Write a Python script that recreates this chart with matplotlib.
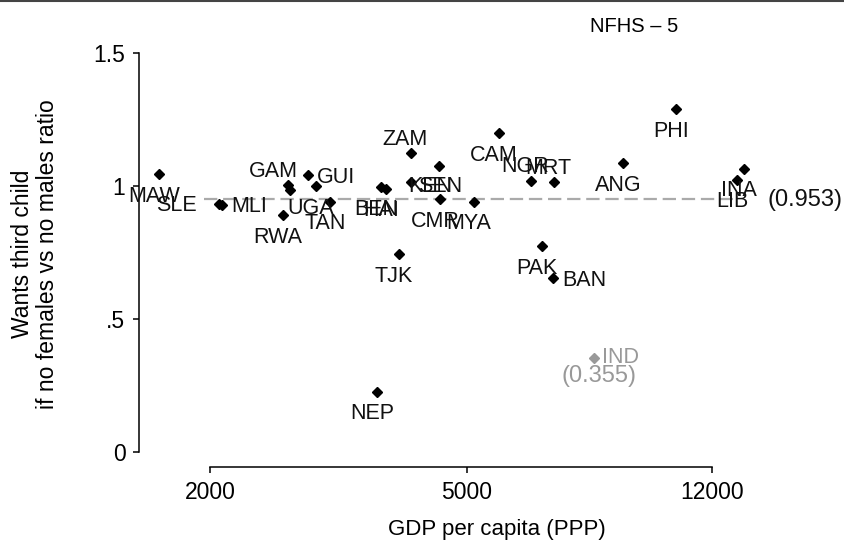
import matplotlib
matplotlib.use('Agg')
import matplotlib.pyplot as plt
from matplotlib.lines import Line2D

# data (GDP per capita PPP, ratio)
countries = ['MAW', 'SLE', 'MLI', 'GAM', '', 'GUI', 'UGA', 'TAN', 'RWA',
             'BEN', 'HAI', 'ZAM', 'TJK', 'NEP', 'KEN', 'SEN', 'CMR', 'MYA',
             'CAM', 'NGR', 'MRT', 'PAK', 'BAN', 'ANG', 'PHI', 'INA', 'LIB']
gdp = [1667, 2065, 2087, 2642, 2661, 2837, 2920, 3069, 2595,
       3682, 3748, 4098, 3926, 3630, 4098, 4529, 4546, 5131,
       5610, 6289, 6827, 6540, 6802, 8733, 10552, 13450, 13118]
ratio = [1.045, 0.932, 0.929, 1.004, 0.985, 1.041, 1.000, 0.940, 0.891,
         0.996, 0.989, 1.124, 0.744, 0.226, 1.015, 1.075, 0.951, 0.940,
         1.199, 1.019, 1.015, 0.774, 0.654, 1.086, 1.289, 1.064, 1.023]

india_gdp = 7874
india_ratio = 0.355
mean_ratio = 0.953
mean_span = [1960, 12950]

xticks = [2000, 5000, 12000]
yticks = [0, 0.5, 1, 1.5]
yticklabels = ['0', '.5', '1', '1.5']

# marker label placement: clock position or (ha, dx, dy) in pixels
offsets = {6: ('center', -5, -22), 12: ('center', -6, 14),
           3: ('left', 9, -2), 9: ('right', -22, -1)}
label_pos = {'SLE': 9, 'MLI': 3, 'GAM': ('center', -15, 13), 'GUI': 3,
             'ZAM': 12, 'KEN': ('left', -3, -4), 'SEN': ('center', 1, -20),
             'NGR': 12, 'MRT': 12, 'BAN': 3}

plt.rcParams['font.family'] = ['Liberation Sans', 'DejaVu Sans']

W, H = 845, 542
fig = plt.figure(figsize=(W / 100, H / 100), dpi=100)
ax = fig.add_axes([139 / W, 75 / H, (W - 139) / W, 427 / H])
ax.set_xscale('log')
ax.set_xlim(1552, 19290)
ax.set_ylim(-0.0564, 1.549)

ax.plot(mean_span, [mean_ratio, mean_ratio], color='#aaaaaa', lw=1.6,
        ls=(0, (6, 2.6)), zorder=1)
ax.annotate('(%.3f)' % mean_ratio, (mean_span[1], mean_ratio),
            xytext=(34, -1), textcoords='offset pixels', ha='left',
            va='center', fontsize=17, color='#111111')

ax.plot(gdp, ratio, ls='none', marker='D', ms=5.2, color='black', zorder=3)
for c, x, y in zip(countries, gdp, ratio):
    if not c:
        continue
    p = label_pos.get(c, 6)
    ha, dx, dy = offsets[p] if isinstance(p, int) else p
    ax.annotate(c, (x, y), xytext=(dx, dy), textcoords='offset pixels',
                ha=ha, va='center', fontsize=15.5, color='#111111')

ax.plot([india_gdp], [india_ratio], ls='none', marker='D', ms=5.2,
        color='#999999', zorder=3)
ax.annotate('IND', (india_gdp, india_ratio), xytext=(8, 0),
            textcoords='offset pixels', ha='left', va='center',
            fontsize=15.5, color='#999999')
ax.annotate('(%.3f)' % india_ratio, (india_gdp, india_ratio), xytext=(5, -18),
            textcoords='offset pixels', ha='center', va='center',
            fontsize=17, color='#999999')

for s in ['top', 'right']:
    ax.spines[s].set_visible(False)
ax.spines['left'].set_bounds(0, 1.5)
ax.spines['bottom'].set_bounds(2000, 12000)
for s in ['left', 'bottom']:
    ax.spines[s].set_linewidth(1.1)

ax.set_xticks(xticks)
ax.set_xticklabels([str(t) for t in xticks])
ax.xaxis.set_minor_locator(matplotlib.ticker.NullLocator())
ax.set_yticks(yticks)
ax.set_yticklabels(yticklabels)
ax.tick_params(direction='out', length=4.3, width=1.1, labelsize=16.5,
               pad=5.5, colors='black')

fig.text(497 / W, 1 - 529 / H, 'GDP per capita (PPP)', ha='center',
         va='center', fontsize=16)
fig.text(35 / W, 1 - 254 / H, 'Wants third child\nif no females vs no males ratio',
         rotation=90, ha='center', va='center', multialignment='center',
         fontsize=16.5, linespacing=1.15)
fig.text(634 / W, 1 - 27 / H, 'NFHS – 5', ha='center', va='center',
         fontsize=14.5)

fig.add_artist(Line2D([0, 1], [0.998, 0.998], transform=fig.transFigure,
                      color='#444444', lw=1.5))

fig.savefig('out.png', dpi=100)
